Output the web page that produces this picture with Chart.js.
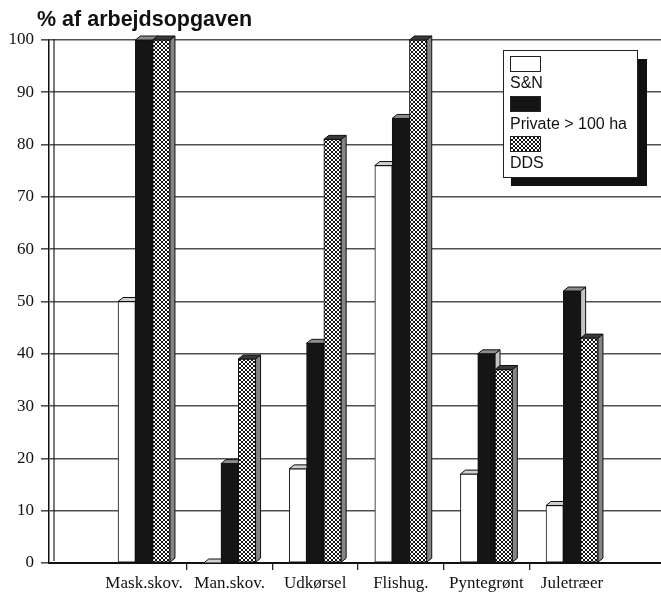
<!DOCTYPE html>
<html>
<head>
<meta charset="utf-8">
<script src="https://cdn.jsdelivr.net/npm/chart.js@4/dist/chart.umd.min.js"></script>
<style>
  html, body { margin: 0; padding: 0; background: #fff; }
  #wrap { width: 661px; height: 592px; position: relative; }
</style>
</head>
<body>
<div id="wrap"><canvas id="chart" width="661" height="592"></canvas></div>
<script>
// Share of each work task, by owner group
const categories = ['Mask.skov.', 'Man.skov.', 'Udkørsel', 'Flishug.', 'Pyntegrønt', 'Juletræer'];
const seriesNames = ['S&N', 'Private > 100 ha', 'DDS'];
const snValues = [50, 0, 18, 76, 17, 11];
const privateValues = [100, 19, 42, 85, 40, 52];
const ddsValues = [100, 39, 81, 100, 37, 43];
const yTicks = [0, 10, 20, 30, 40, 50, 60, 70, 80, 90, 100];
const titleText = '% af arbejdsopgaven';

const canvas = document.getElementById('chart');
const ctx = canvas.getContext('2d');

// small diamond cross-hatch fill
function makeHatch() {
  const t = document.createElement('canvas');
  t.width = 4; t.height = 4;
  const g = t.getContext('2d');
  g.fillStyle = '#fff';
  g.fillRect(0, 0, 4, 4);
  g.fillStyle = '#151515';
  [[0,0],[1,1],[2,2],[3,3],[3,0],[2,1],[1,2],[0,3]].forEach(([x, y]) => g.fillRect(x, y, 1, 1));
  return ctx.createPattern(t, 'repeat');
}
const hatch = makeHatch();

const seriesFill = ['#ffffff', '#151515', hatch];
const faceTop = ['#d0d0d0', '#8c8c8c', '#3a3a3a'];
const faceSide = ['#bdbdbd', '#c4c4c4', '#858585'];
const DX = 5, DY = 4;

const toPoints = vals => vals.map((v, i) => ({ x: i + 1, y: v }));

// extruded top and side faces behind each bar front
const depthPlugin = {
  id: 'depth',
  beforeDatasetsDraw(chart) {
    const c = chart.ctx;
    const area = chart.chartArea;
    c.save();
    // back wall edge
    c.strokeStyle = '#222';
    c.lineWidth = 1.2;
    c.beginPath();
    c.moveTo(area.left + DX, area.top - 1);
    c.lineTo(area.left + DX, area.bottom - 2);
    c.stroke();
    chart.data.datasets.forEach((ds, di) => {
      const meta = chart.getDatasetMeta(di);
      meta.data.forEach(bar => {
        const p = bar.getProps(['x', 'y', 'base', 'width'], true);
        const l = p.x - p.width / 2, r = p.x + p.width / 2;
        const top = p.y, bot = p.base;
        c.lineWidth = 1;
        c.strokeStyle = '#111';
        // side
        c.beginPath();
        c.moveTo(r, top);
        c.lineTo(r + DX, top - DY);
        c.lineTo(r + DX, bot - DY);
        c.lineTo(r, bot);
        c.closePath();
        c.fillStyle = faceSide[di];
        c.fill();
        c.stroke();
        // top
        c.beginPath();
        c.moveTo(l, top);
        c.lineTo(l + DX, top - DY);
        c.lineTo(r + DX, top - DY);
        c.lineTo(r, top);
        c.closePath();
        c.fillStyle = faceTop[di];
        c.fill();
        c.stroke();
      });
    });
    c.restore();
  }
};

// heading and boxed legend with drop shadow
const decorPlugin = {
  id: 'decor',
  afterDraw(chart) {
    const c = chart.ctx;
    c.save();
    c.fillStyle = '#111';
    c.font = 'bold 21.5px "Liberation Sans", Arial, sans-serif';
    c.textBaseline = 'alphabetic';
    c.textAlign = 'left';
    c.fillText(titleText, 37, 26);

    const bx = 503, by = 50, bw = 134, bh = 127, sh = 9;
    c.fillStyle = '#111';
    c.fillRect(bx + 8, by + sh, bw + 2, bh);
    c.fillStyle = '#fff';
    c.fillRect(bx, by, bw, bh);
    c.strokeStyle = '#222';
    c.lineWidth = 1;
    c.strokeRect(bx + 0.5, by + 0.5, bw, bh);

    const swatchY = [56, 96, 136];
    const textY = [88, 129, 168];
    c.font = '16px "Liberation Sans", Arial, sans-serif';
    chart.data.datasets.forEach((ds, i) => {
      c.fillStyle = ds.backgroundColor;
      c.fillRect(510, swatchY[i], 30, 15);
      c.strokeStyle = '#222';
      c.strokeRect(510.5, swatchY[i] + 0.5, 30, 15);
      c.fillStyle = '#111';
      c.fillText(ds.label, 510, textY[i]);
    });
    c.restore();
  }
};

new Chart(ctx, {
  type: 'bar',
  data: {
    datasets: [
      { label: seriesNames[0], data: toPoints(snValues), backgroundColor: seriesFill[0] },
      { label: seriesNames[1], data: toPoints(privateValues), backgroundColor: seriesFill[1] },
      { label: seriesNames[2], data: toPoints(ddsValues), backgroundColor: seriesFill[2] }
    ]
  },
  options: {
    responsive: false,
    animation: false,
    layout: { padding: { top: 40, right: 0, bottom: 0, left: 0 } },
    datasets: {
      bar: {
        barThickness: 17.3,
        borderColor: '#111',
        borderWidth: 1,
        borderSkipped: false
      }
    },
    plugins: {
      legend: { display: false },
      title: { display: false },
      tooltip: { enabled: false }
    },
    scales: {
      x: {
        type: 'linear',
        offset: false,
        min: -0.11,
        max: 7.04,
        afterBuildTicks(scale) {
          const t = [];
          categories.forEach((_, i) => {
            t.push({ value: i + 1 });
            if (i < categories.length - 1) t.push({ value: i + 1.5 });
          });
          scale.ticks = t;
        },
        afterFit(scale) { scale.height = 29; },
        ticks: {
          autoSkip: false,
          maxRotation: 0,
          padding: 3,
          color: '#111',
          font: { family: '"Liberation Serif", "Times New Roman", serif', size: 17 },
          callback: v => Number.isInteger(v) ? categories[v - 1] : ''
        },
        grid: {
          offset: false,
          drawOnChartArea: false,
          drawTicks: true,
          tickLength: 7,
          lineWidth: 1.3,
          color: c => (c.tick && !Number.isInteger(c.tick.value)) ? '#222' : 'rgba(0,0,0,0)'
        },
        border: { display: true, color: '#111', width: 2 }
      },
      y: {
        min: 0,
        max: 100,
        afterBuildTicks(scale) { scale.ticks = yTicks.map(v => ({ value: v })); },
        afterFit(scale) { scale.width = 49; },
        ticks: {
          padding: 7,
          color: '#111',
          font: { family: '"Liberation Serif", "Times New Roman", serif', size: 17 }
        },
        grid: { color: '#505050', lineWidth: 1.6, tickLength: 8, drawTicks: true },
        border: { display: true, color: '#111', width: 1.5 }
      }
    }
  },
  plugins: [depthPlugin, decorPlugin]
});
</script>
</body>
</html>
